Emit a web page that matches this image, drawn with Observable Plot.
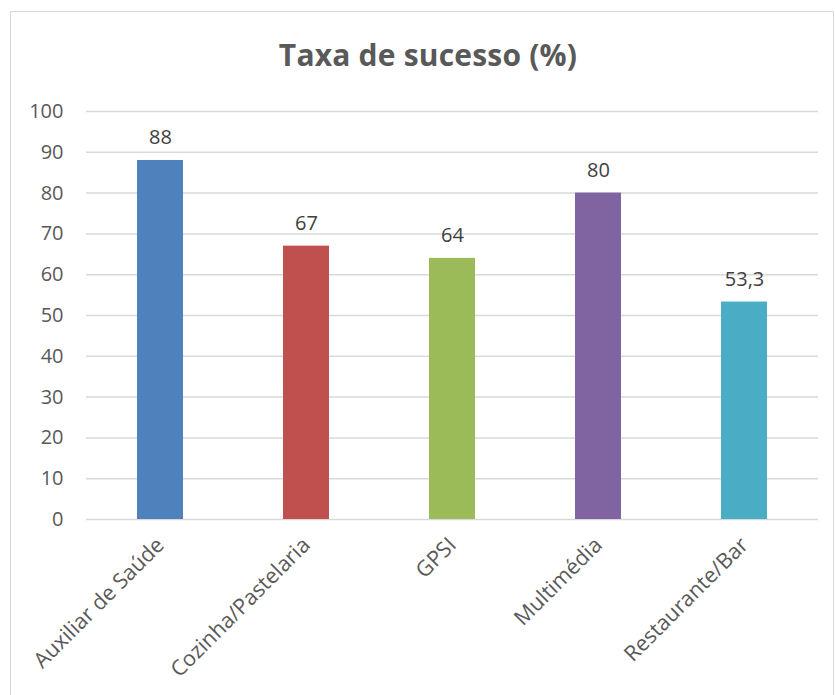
<!DOCTYPE html>
<html><head><meta charset="utf-8">
<script src="https://cdn.jsdelivr.net/npm/d3@7"></script>
<script src="https://cdn.jsdelivr.net/npm/@observablehq/plot@0.6"></script>
<style>
body{margin:0;background:#fff;font-family:"Open Sans",sans-serif;}
#wrap{position:relative;width:835px;height:695px;overflow:hidden;background:#fff;}
#frame{position:absolute;left:10px;top:11px;width:822px;height:700px;border:1px solid #d9d9d9;}
#title{position:absolute;top:37px;left:428px;transform:translateX(-50%);font-weight:bold;font-size:30px;letter-spacing:0.2px;color:#595959;white-space:nowrap;line-height:1.2;}
#plot{position:absolute;left:0;top:0;}
</style></head><body>
<div id="wrap"><div id="frame"></div><div id="title">Taxa de sucesso (%)</div><div id="plot"></div></div>
<script>
const categories = ["Auxiliar de Saúde", "Cozinha/Pastelaria", "GPSI", "Multimédia", "Restaurante/Bar"];
const values = [88, 67, 64, 80, 53.3];
const colors = ["#4F81BD", "#C0504D", "#9BBB59", "#8064A2", "#4BACC6"];
const yTicks = [0, 10, 20, 30, 40, 50, 60, 70, 80, 90, 100];

const data = categories.map((c, i) => ({cat: c, value: values[i], color: colors[i]}));
const fmt = v => String(v).replace(".", ",");

const chart = Plot.plot({
  width: 835,
  height: 695,
  marginTop: 111,
  marginBottom: 176,
  marginLeft: 86,
  marginRight: 17,
  style: {color: "#595959", fontFamily: "'Open Sans', sans-serif", background: "transparent"},
  x: {domain: categories, paddingInner: 0.686, paddingOuter: 0.343, label: null},
  y: {domain: [0, 100], label: null},
  marks: [
    Plot.ruleY(yTicks, {stroke: "#d9d9d9", strokeWidth: 1.5}),
    Plot.barY(data, {x: "cat", y: "value", fill: "color"}),
    Plot.text(data, {x: "cat", y: "value", text: d => fmt(d.value), dy: -16, lineAnchor: "bottom", fontSize: 20, fill: "#404040"}),
    Plot.axisY({ticks: yTicks, tickSize: 0, tickPadding: 23, fontSize: 20, label: null}),
    Plot.axisX({tickSize: 0, tickPadding: 22, tickRotate: -45, fontSize: 21.5, label: null})
  ]
});
document.getElementById("plot").appendChild(chart);
</script>
</body></html>
